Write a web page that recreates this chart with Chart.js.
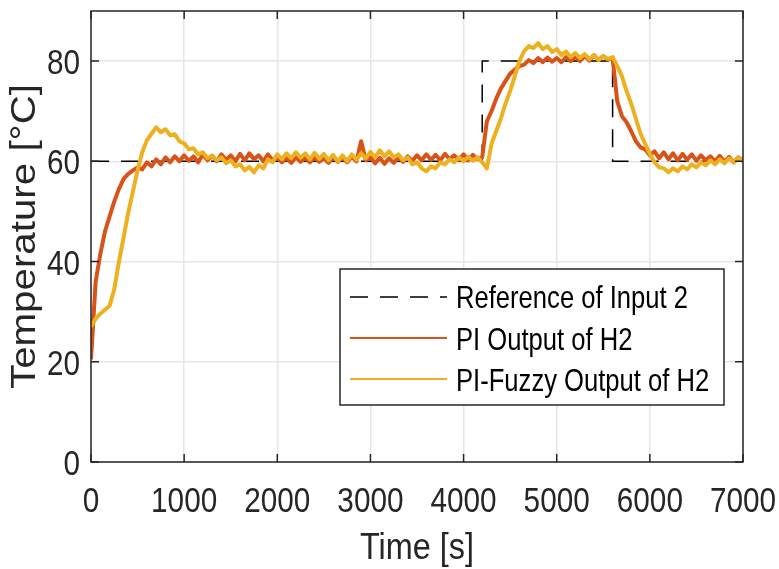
<!DOCTYPE html>
<html>
<head>
<meta charset="utf-8">
<script src="https://cdn.jsdelivr.net/npm/chart.js@4.4.1/dist/chart.umd.min.js"></script>
<style>
    html, body { margin: 0; padding: 0; background: #fff; }
    #tempChart { display: block; }
</style>
</head>
<body>
<canvas id="tempChart" width="779" height="569"></canvas>
<script>
const sampleStep = 50

const piOutput = [
    20.5, 36.0, 41.5, 46.0, 49.0, 52.0, 54.5, 56.5, 57.5, 58.2,
    58.8, 58.4, 59.8, 59.0, 60.4, 59.4, 60.8, 59.8, 61.0, 60.0,
    61.2, 60.1, 61.0, 59.8, 61.3, 60.2, 61.1, 60.0, 61.4, 60.3,
    61.2, 60.0, 61.5, 60.2, 61.6, 60.4, 61.2, 60.0, 61.4, 60.2,
    60.8, 59.8, 60.6, 59.7, 60.8, 59.9, 60.7, 59.8, 60.9, 59.9,
    60.6, 59.7, 60.8, 59.9, 60.7, 59.8, 60.9, 60.0, 64.0, 60.2,
    60.8, 59.6, 60.7, 59.5, 60.6, 59.7, 60.8, 59.9, 61.0, 60.1,
    61.2, 60.2, 61.4, 60.3, 61.3, 60.2, 61.5, 60.4, 61.2, 60.3,
    61.4, 60.2, 61.3, 60.4, 60.8, 68.0, 70.0, 72.5, 74.5, 76.0,
    77.5, 78.3, 79.0, 79.3, 80.2, 79.6, 80.6, 79.8, 80.7, 79.9,
    80.6, 79.8, 80.8, 80.0, 80.9, 80.0, 81.0, 80.1, 81.2, 80.2,
    81.0, 80.3, 80.6, 72.0, 69.0, 67.8, 66.0, 64.0, 62.8, 62.4,
    61.2, 62.0, 60.6, 61.8, 60.4, 61.6, 60.2, 61.5, 60.3, 61.4,
    60.1, 61.2, 60.2, 61.0, 60.0, 61.1, 59.9, 60.9, 59.8, 60.8,
    60.2
]

const fuzzyOutput = [
    27.0, 28.6, 29.6, 30.4, 31.2, 34.5, 40.0, 44.8, 49.8, 54.0,
    58.2, 61.8, 64.2, 65.5, 66.8, 65.8, 66.4, 65.2, 65.4, 64.0,
    63.6, 62.4, 62.6, 61.4, 61.8, 60.6, 61.2, 60.2, 60.8, 59.6,
    60.2, 59.0, 59.4, 58.2, 58.9, 57.8, 59.2, 58.6, 60.4, 59.8,
    61.4, 60.4, 61.6, 60.6, 61.8, 60.7, 61.6, 60.4, 61.7, 60.5,
    61.5, 60.2, 61.3, 60.0, 61.2, 60.0, 61.4, 60.3, 61.6, 60.6,
    61.9, 60.8, 62.2, 61.0, 62.0, 60.8, 61.4, 60.2, 60.8, 59.4,
    59.8, 58.6, 58.0, 59.0, 58.6, 59.8, 59.4, 60.4, 59.8, 60.8,
    60.0, 60.9, 60.1, 60.8, 59.8, 58.6, 63.5, 66.0, 68.5, 71.5,
    74.0, 77.0, 80.0, 82.0, 83.0, 82.6, 83.6, 82.4, 83.0, 81.8,
    82.4, 81.2, 81.9, 80.8, 81.6, 80.6, 81.4, 80.4, 81.2, 80.2,
    81.0, 80.4, 80.8, 79.0, 77.0, 74.0, 71.5, 68.5, 65.5, 63.5,
    61.5, 59.8, 58.8, 58.6, 57.8, 58.6, 58.0, 59.0, 58.4, 59.4,
    58.8, 59.8, 59.2, 60.2, 59.4, 60.4, 59.6, 60.6, 59.8, 60.8,
    60.0
]

const refTimes = [0, 4200, 4200, 5600, 5600, 7000]
const refValues = [60, 60, 80, 80, 60, 60]

const seriesLabels = ['Reference of Input 2', 'PI Output of H2', 'PI-Fuzzy Output of H2']
const xTickValues = [0, 1000, 2000, 3000, 4000, 5000, 6000, 7000]
const yTickValues = [0, 20, 40, 60, 80]
const xTitle = 'Time [s]'
const yTitle = 'Temperature [°C]'

const timeSec = piOutput.map((_, i) => i * sampleStep)
const toPoints = (xs, ys) => xs.map((x, i) => ({ x: x, y: ys[i] }))

const family = "'Liberation Sans', Arial, Helvetica, sans-serif"
const axisColor = '#262626'
const squeeze = 0.85   // the figure's text is horizontally condensed

// text drawn squeezed along its own direction
const drawText = (ctx, text, x, y, size, align, sx, angle = 0, color = axisColor) => {
    ctx.save()
    ctx.font = `${size}px ${family}`
    ctx.fillStyle = color
    ctx.textAlign = align
    ctx.textBaseline = 'alphabetic'
    ctx.translate(x, y)
    ctx.rotate(angle)
    ctx.scale(sx, 1)
    ctx.fillText(text, 0, 0)
    ctx.restore()
}

// matlab style box with inward ticks on all four sides, plus the labels
const boxAndTicks = {
    id: 'boxAndTicks',
    afterDatasetsDraw(chart) {
        const { ctx, chartArea: a, scales: { x, y } } = chart
        const len = 8
        ctx.save()
        ctx.strokeStyle = axisColor
        ctx.lineWidth = 1.5
        ctx.beginPath()
        x.ticks.forEach(t => {
            const px = x.getPixelForValue(t.value)
            ctx.moveTo(px, a.bottom); ctx.lineTo(px, a.bottom - len)
            ctx.moveTo(px, a.top); ctx.lineTo(px, a.top + len)
        })
        y.ticks.forEach(t => {
            const py = y.getPixelForValue(t.value)
            ctx.moveTo(a.left, py); ctx.lineTo(a.left + len, py)
            ctx.moveTo(a.right, py); ctx.lineTo(a.right - len, py)
        })
        ctx.stroke()
        ctx.strokeRect(a.left, a.top, a.right - a.left, a.bottom - a.top)
        ctx.restore()

        x.ticks.forEach(t => {
            drawText(ctx, String(t.value), x.getPixelForValue(t.value), a.bottom + 50, 35, 'center', squeeze)
        })
        y.ticks.forEach(t => {
            drawText(ctx, String(t.value), a.left - 11, y.getPixelForValue(t.value) + 13, 35, 'right', squeeze)
        })
        drawText(ctx, xTitle, (a.left + a.right) / 2, a.bottom + 97, 36, 'center', 0.9)

        ctx.save()
        ctx.font = `35px ${family}`
        const stretch = 305 / ctx.measureText(yTitle).width
        ctx.restore()
        drawText(ctx, yTitle, 35, (a.top + a.bottom) / 2, 35, 'center', stretch, -Math.PI / 2)
    }
}

const boxLegend = {
    id: 'boxLegend',
    afterDraw(chart) {
        const { ctx, chartArea: a } = chart
        const w = 384, h = 136
        const left = a.right - 19 - w
        const top = a.bottom - 57 - h
        ctx.save()
        ctx.fillStyle = '#fff'
        ctx.fillRect(left, top, w, h)
        ctx.strokeStyle = axisColor
        ctx.lineWidth = 1.5
        ctx.strokeRect(left, top, w, h)
        chart.data.datasets.forEach((ds, i) => {
            const cy = top + 28 + i * 41
            ctx.strokeStyle = ds.borderColor
            ctx.lineWidth = i === 0 ? 1.5 : 2
            ctx.setLineDash(ds.borderDash || [])
            ctx.beginPath()
            ctx.moveTo(left + 10, cy)
            ctx.lineTo(left + 107, cy)
            ctx.stroke()
            ctx.setLineDash([])
        })
        ctx.restore()
        chart.data.datasets.forEach((ds, i) => {
            drawText(ctx, ds.label, left + 116, top + 39 + i * 41.5, 32, 'left', 0.8, 0, '#000')
        })
    }
}

const ctx = document.getElementById('tempChart').getContext('2d')

new Chart(ctx, {
    type: 'line',
    data: {
        datasets: [{
            label: seriesLabels[0],
            data: toPoints(refTimes, refValues),
            borderColor: '#000000',
            borderWidth: 1.5,
            borderDash: [18, 12],
            order: 2,
        }, {
            label: seriesLabels[1],
            data: toPoints(timeSec, piOutput),
            borderColor: '#D95319',
            borderWidth: 4,
            order: 1,
        }, {
            label: seriesLabels[2],
            data: toPoints(timeSec, fuzzyOutput),
            borderColor: '#EDB120',
            borderWidth: 4,
            order: 0,
        }]
    },
    options: {
        responsive: false,
        animation: false,
        devicePixelRatio: 1,
        layout: { padding: { top: 11, right: 36, bottom: 0, left: 0 } },
        elements: {
            point: { radius: 0 },
            line: { tension: 0, borderJoinStyle: 'round' }
        },
        plugins: {
            legend: { display: false },
            tooltip: { enabled: false }
        },
        scales: {
            x: {
                type: 'linear',
                min: 0,
                max: 7000,
                afterBuildTicks: s => { s.ticks = xTickValues.map(v => ({ value: v })) },
                afterFit: s => { s.height = 107 },
                ticks: { display: false },
                grid: { color: '#e5e5e5', lineWidth: 1.5, drawTicks: false },
                border: { display: false }
            },
            y: {
                min: 0,
                max: 90,
                afterBuildTicks: s => { s.ticks = yTickValues.map(v => ({ value: v })) },
                afterFit: s => { s.width = 91 },
                ticks: { display: false },
                grid: { color: '#e5e5e5', lineWidth: 1.5, drawTicks: false },
                border: { display: false }
            }
        }
    },
    plugins: [boxAndTicks, boxLegend]
});
</script>
</body>
</html>
